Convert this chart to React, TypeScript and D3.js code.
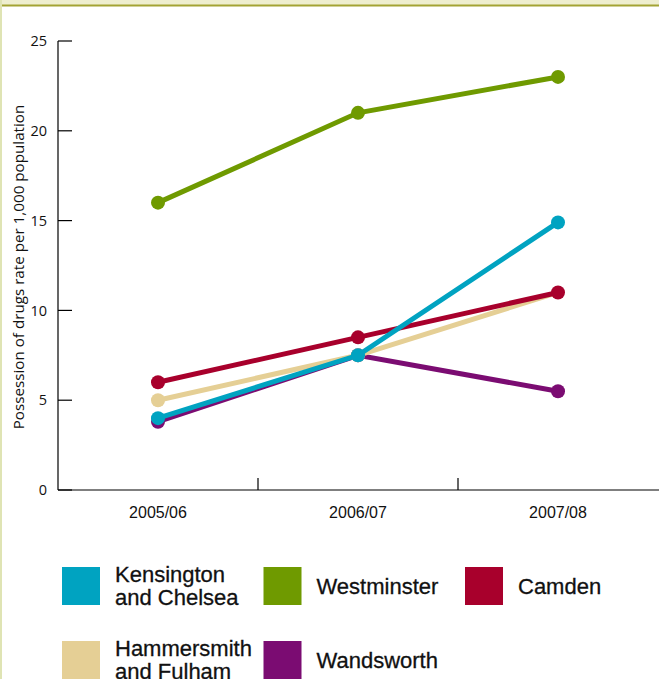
import React from "react";
import * as d3 from "d3";

const years = ["2005/06", "2006/07", "2007/08"];
const yTicks = [0, 5, 10, 15, 20, 25];

const kensington = [4, 7.5, 14.9];
const westminster = [16, 21, 23];
const camden = [6, 8.5, 11];
const hammersmith = [5, 7.5, 11];
const wandsworth = [3.8, 7.5, 5.5];

const seriesNames = [
  "Wandsworth",
  "Hammersmith and Fulham",
  "Camden",
  "Kensington and Chelsea",
  "Westminster",
];
const seriesValues = [wandsworth, hammersmith, camden, kensington, westminster];
const seriesColors = ["#7b0c72", "#e5cf95", "#a8002c", "#00a3c1", "#6f9a00"];
const showLastDot = [true, false, true, true, true];

const legendItems = [
  { lines: ["Kensington", "and Chelsea"], color: "#00a3c1" },
  { lines: ["Westminster"], color: "#6f9a00" },
  { lines: ["Camden"], color: "#a8002c" },
  { lines: ["Hammersmith", "and Fulham"], color: "#e5cf95" },
  { lines: ["Wandsworth"], color: "#7b0c72" },
];

const W = 659;
const H = 679;

export default function App() {
  const x = d3.scaleBand<string>().domain(years).range([58, 658]).padding(0);
  const y = d3.scaleLinear().domain([0, 25]).range([490, 41]);
  const cx = (i: number) => (x(years[i]) as number) + x.bandwidth() / 2;
  const line = d3
    .line<number>()
    .x((_, i) => cx(i))
    .y((d) => y(d));

  return (
    <svg
      width={W}
      height={H}
      style={{ position: "absolute", left: 0, top: 0, background: "#fff" }}
    >
      <rect x={0} y={0} width={W} height={5} fill="#eeeecf" />
      <rect x={0} y={4.5} width={W} height={2} fill="#a3a334" />
      <rect x={0} y={0} width={2} height={H} fill="#dfe4b4" />

      {/* y axis */}
      <line x1={58} x2={58} y1={y(25)} y2={y(0)} stroke="#000" strokeWidth={1.2} />
      {yTicks.map((t) => (
        <g key={t}>
          <line x1={58} x2={72} y1={y(t)} y2={y(t)} stroke="#000" strokeWidth={1.2} />
          <text
            x={47}
            y={y(t)}
            dy="0.36em"
            textAnchor="end"
            fontFamily="'Open Sans', sans-serif"
            fontSize={14.5}
            fill="#111"
          >
            {t}
          </text>
        </g>
      ))}
      <text
        transform={`translate(24,${267}) rotate(-90)`}
        textAnchor="middle"
        fontFamily="'Open Sans', sans-serif"
        fontSize={15.2}
        fill="#111"
      >
        Possession of drugs rate per 1,000 population
      </text>

      {/* x axis */}
      <line x1={58} x2={W} y1={y(0)} y2={y(0)} stroke="#000" strokeWidth={1.2} />
      {years.slice(1).map((yr) => (
        <line
          key={yr}
          x1={x(yr) as number}
          x2={x(yr) as number}
          y1={y(0)}
          y2={y(0) - 12}
          stroke="#000"
          strokeWidth={1.2}
        />
      ))}
      {years.map((yr, i) => (
        <text
          key={yr}
          x={cx(i)}
          y={518}
          textAnchor="middle"
          fontFamily="'Liberation Sans', Arial, sans-serif"
          fontSize={16}
          fill="#111"
        >
          {yr}
        </text>
      ))}

      {/* series */}
      {seriesValues.map((vals, si) => (
        <g key={seriesNames[si]}>
          <path
            d={line(vals) as string}
            fill="none"
            stroke={seriesColors[si]}
            strokeWidth={5}
          />
          {vals.map((v, i) =>
            i === vals.length - 1 && !showLastDot[si] ? null : (
              <circle key={i} cx={cx(i)} cy={y(v)} r={7} fill={seriesColors[si]} />
            )
          )}
        </g>
      ))}

      {/* legend */}
      {legendItems.map((item, i) => {
        const col = i % 3;
        const row = Math.floor(i / 3);
        const lx = 62 + col * 201.5;
        const ly = 567 + row * 74;
        return (
          <g key={i}>
            <rect x={lx} y={ly} width={38} height={38} fill={item.color} />
            {item.lines.map((t, j) => (
              <text
                key={j}
                x={lx + 53}
                y={item.lines.length === 1 ? ly + 27 : ly + 15 + j * 22.6}
                fontFamily="'Liberation Sans', Arial, sans-serif"
                fontSize={22}
                fill="#111"
                stroke="#111"
                strokeWidth={0.3}
              >
                {t}
              </text>
            ))}
          </g>
        );
      })}
    </svg>
  );
}
